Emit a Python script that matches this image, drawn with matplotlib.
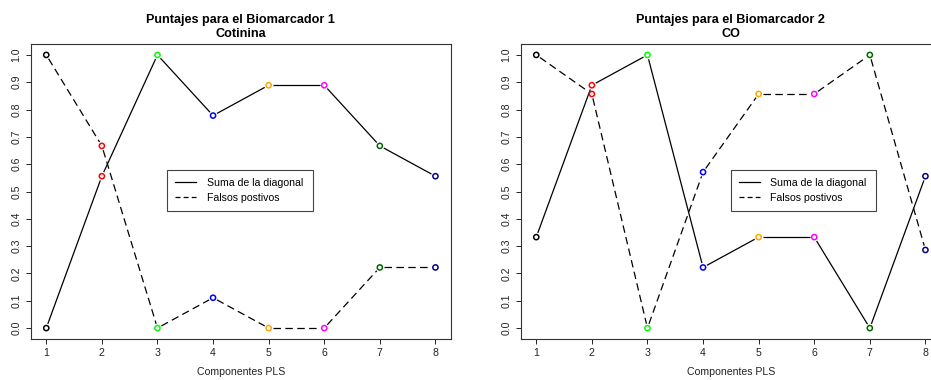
import matplotlib
matplotlib.use("Agg")
import matplotlib.pyplot as plt
import numpy as np

plt.rcParams['font.family'] = ['Liberation Sans', 'DejaVu Sans']

components = [1, 2, 3, 4, 5, 6, 7, 8]
point_colors = ["black", "red", "#00FF00", "blue", "orange", "magenta", "darkgreen", "darkblue"]

title1 = "Puntajes para el Biomarcador 1\nCotinina"
diag1 = [0.0, 0.556, 1.0, 0.778, 0.889, 0.889, 0.667, 0.556]
fp1 = [1.0, 0.667, 0.0, 0.111, 0.0, 0.0, 0.222, 0.222]

title2 = "Puntajes para el Biomarcador 2\nCO"
diag2 = [0.333, 0.889, 1.0, 0.222, 0.333, 0.333, 0.0, 0.556]
fp2 = [1.0, 0.857, 0.0, 0.571, 0.857, 0.857, 1.0, 0.286]

legend_labels = ["Suma de la diagonal", "Falsos postivos"]
yticks = [round(0.1 * i, 1) for i in range(11)]

W, H = 931, 380
fig = plt.figure(figsize=(W / 100, H / 100), dpi=100)

FS = 7.6
GAP = 4.5  # px gap around points (R type="b")


def draw_series(ax, xs, ys, ls):
    pts = ax.transData.transform(np.column_stack([xs, ys]))
    inv = ax.transData.inverted()
    for i in range(len(xs) - 1):
        p0, p1 = pts[i], pts[i + 1]
        d = p1 - p0
        L = np.hypot(*d)
        if L <= 2 * GAP:
            continue
        u = d / L
        a = inv.transform(p0 + u * GAP)
        b = inv.transform(p1 - u * GAP)
        ax.plot([a[0], b[0]], [a[1], b[1]], color="black", lw=0.9,
                linestyle=ls, solid_capstyle="butt", dash_capstyle="butt")
    ax.scatter(xs, ys, s=14, facecolors="none", edgecolors=point_colors,
               linewidths=1.1, zorder=5)


def make_panel(rect, title, diag, fp, leg_rect):
    ax = fig.add_axes(rect)
    ax.set_xlim(0.72, 8.28)
    ax.set_ylim(-0.04, 1.04)
    ax.set_xticks(components)
    ax.set_xticklabels([str(c) for c in components])
    ax.set_yticks(yticks)
    ax.set_yticklabels([f"{v:.1f}" for v in yticks], rotation=90, va="center")
    ax.tick_params(axis="both", labelsize=FS, length=3.6, width=0.7,
                   pad=3.2, colors="#222222")
    for s in ax.spines.values():
        s.set_linewidth(0.8)
        s.set_color("#333333")
    ax.set_title(title, fontsize=9.05, fontweight="bold", pad=5, linespacing=1.25)
    ax.set_xlabel("Componentes PLS", fontsize=FS, labelpad=6, color="#222222")
    ls_dash = (0, (6, 3.5))
    draw_series(ax, components, diag, "-")
    draw_series(ax, components, fp, ls_dash)
    h1, = ax.plot([], [], color="black", lw=0.9, linestyle="-")
    h2, = ax.plot([], [], color="black", lw=0.9, linestyle=(0, (4, 2.5)))
    leg = ax.legend([h1, h2], legend_labels, bbox_to_anchor=leg_rect,
                    bbox_transform=fig.transFigure, loc="upper left", mode="expand",
                    fontsize=FS, frameon=True, fancybox=False, framealpha=1,
                    edgecolor="#444444", handlelength=2.0, handletextpad=1.0,
                    borderpad=0.75, labelspacing=0.45, borderaxespad=0)
    leg.get_frame().set_linewidth(0.8)
    return ax


axw = 420.3 / W
axb = (H - 339) / H
axh = (339 - 44) / H
make_panel([30.7 / W, axb, axw, axh], title1, diag1, fp1,
           (167 / W, 1 - 214 / H, 146 / W, 44 / H))
make_panel([520.7 / W, axb, axw, axh], title2, diag2, fp2,
           (730.7 / W, 1 - 214 / H, 145.3 / W, 44 / H))

fig.savefig("out.png", dpi=100)
